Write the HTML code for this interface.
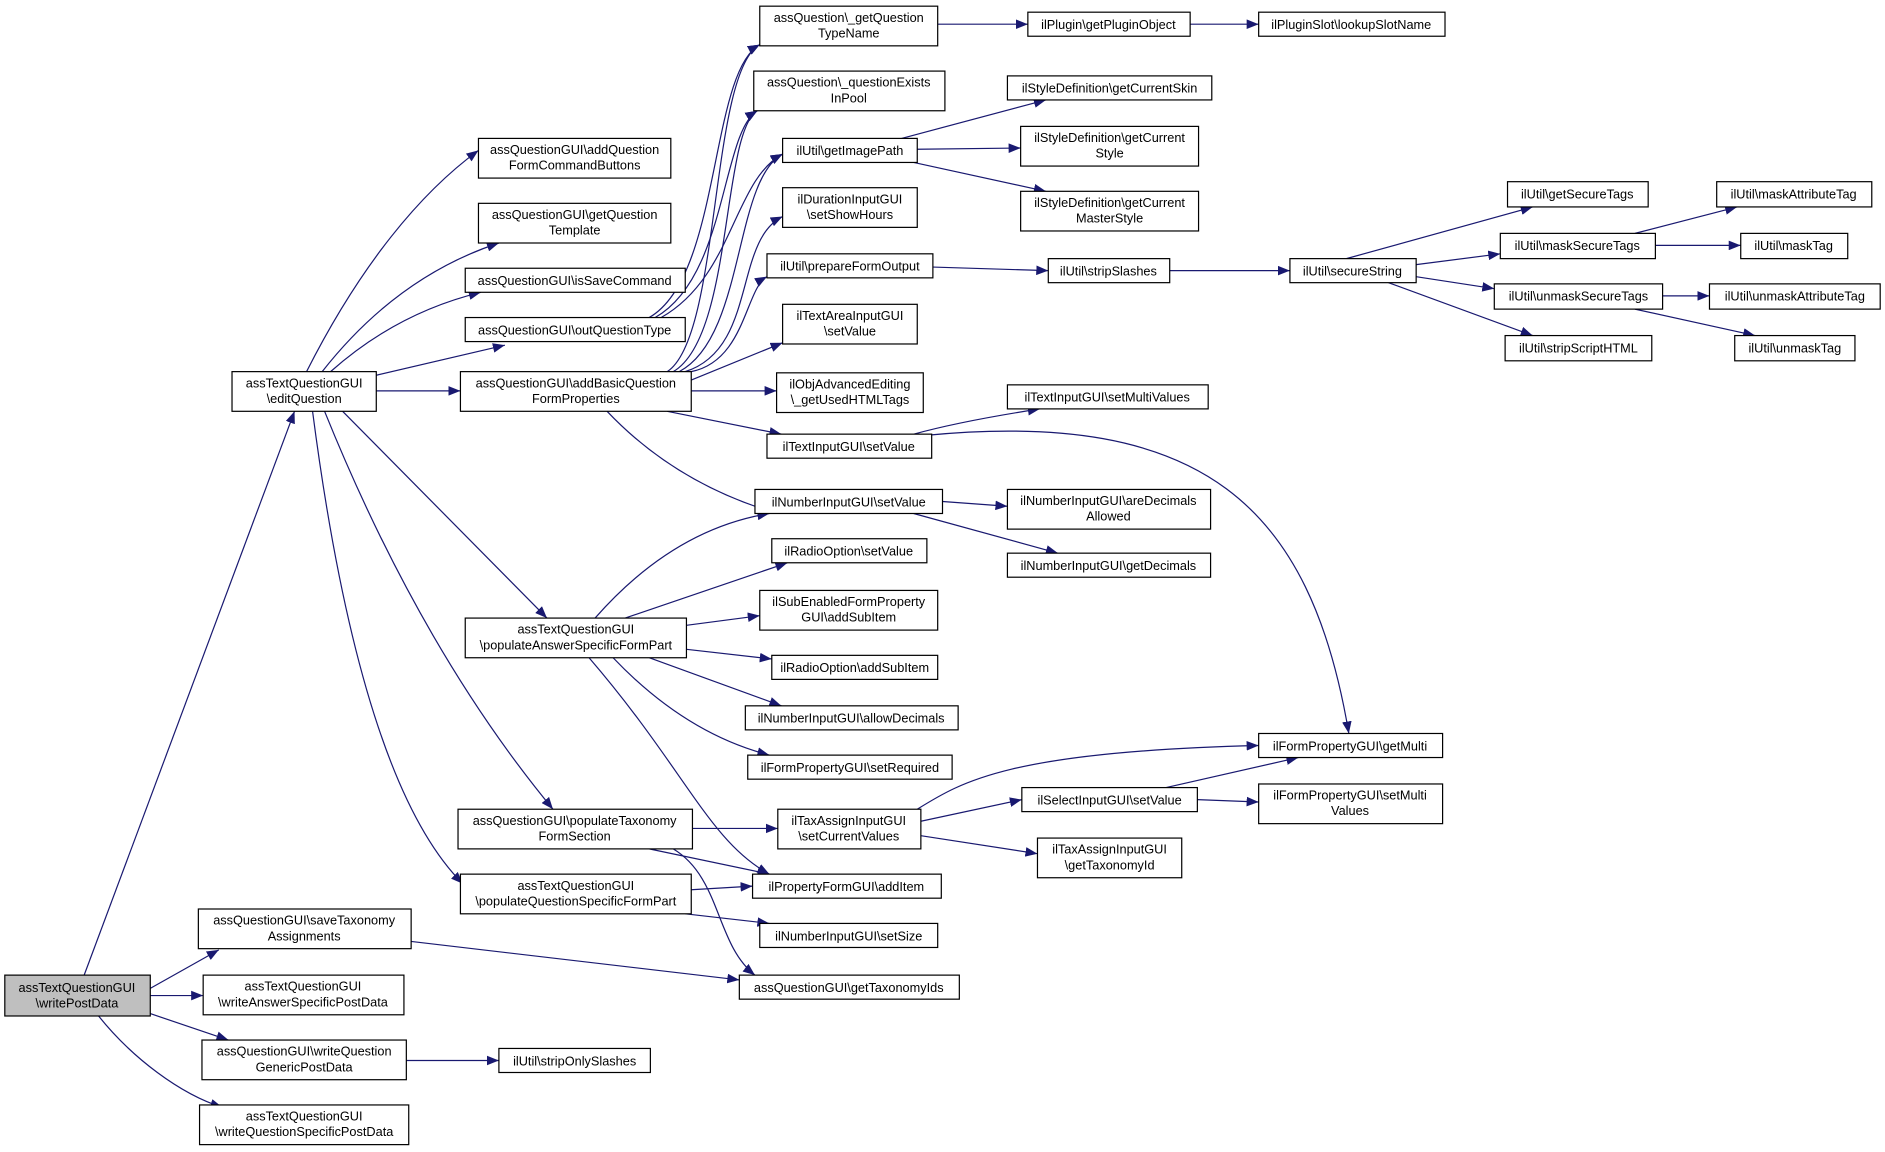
<!DOCTYPE html>
<html><head><meta charset="utf-8"><style>html,body{margin:0;padding:0;background:#fff}svg{display:block}</style></head>
<body>
<svg width="1885" height="1152" viewBox="0 0 1568 958" xmlns="http://www.w3.org/2000/svg" font-family="Liberation Sans, Arial, sans-serif" font-size="10.6">
<defs><marker id="a" markerUnits="userSpaceOnUse" markerWidth="11" markerHeight="8" refX="10" refY="4" orient="auto"><path d="M0,0L10,4L0,8z" fill="#191970"/></marker></defs>
<g fill="none" stroke="#191970" stroke-width="1" marker-end="url(#a)">
<path d="M70,811L245,342"/>
<path d="M125,822L182,790"/>
<path d="M125,828L169,828"/>
<path d="M125,843L190,865"/>
<path d="M82,845C110,880 150,910 185,921"/>
<path d="M255,309C300,220 350,160 398,125"/>
<path d="M268,309Q330,230 415,202"/>
<path d="M275,309Q330,260 400,243"/>
<path d="M313,312L420,287"/>
<path d="M313,325L383,325"/>
<path d="M285,342L455,514"/>
<path d="M270,342Q350,540 460,673"/>
<path d="M260,342Q300,650 385,735"/>
<path d="M555,309C600,280 590,60 632,37"/>
<path d="M560,309C610,280 600,110 630,92"/>
<path d="M565,309C620,280 610,150 651,128"/>
<path d="M570,309C630,290 610,200 651,180"/>
<path d="M575,309C620,300 620,240 638,230"/>
<path d="M575,316L651,285"/>
<path d="M575,325L646,325"/>
<path d="M555,342L650,361"/>
<path d="M505,342Q560,400 640,425"/>
<path d="M540,264C600,230 590,60 632,37"/>
<path d="M545,264C605,230 600,110 630,92"/>
<path d="M550,264C610,230 610,150 651,128"/>
<path d="M495,514Q560,440 640,427"/>
<path d="M520,514L655,468"/>
<path d="M571,520L632,512"/>
<path d="M571,540L642,548"/>
<path d="M540,547L650,587"/>
<path d="M510,547Q570,610 640,628"/>
<path d="M490,547C570,640 590,700 640,727"/>
<path d="M576,689L647,689"/>
<path d="M540,706L640,727"/>
<path d="M560,706C600,730 595,785 628,811"/>
<path d="M575,740L626,737"/>
<path d="M570,760L640,768"/>
<path d="M342,783L615,815"/>
<path d="M338,882L415,882"/>
<path d="M780,20L855,20"/>
<path d="M990,20L1047,20"/>
<path d="M750,115L870,83"/>
<path d="M763,124L849,123"/>
<path d="M760,135L870,159"/>
<path d="M776,222L872,225"/>
<path d="M973,225L1073,225"/>
<path d="M1120,215L1275,172"/>
<path d="M1178,220L1248,211"/>
<path d="M1178,230L1243,240"/>
<path d="M1155,235L1275,279"/>
<path d="M1360,194L1445,172"/>
<path d="M1377,204L1448,204"/>
<path d="M1383,246L1422,246"/>
<path d="M1360,257L1460,279"/>
<path d="M760,361Q800,350 865,340"/>
<path d="M770,362C1000,340 1090,420 1122,610"/>
<path d="M784,417L838,421"/>
<path d="M760,427L880,460"/>
<path d="M763,673C800,650 840,625 1047,620"/>
<path d="M766,683L850,665"/>
<path d="M766,695L863,710"/>
<path d="M970,655L1080,630"/>
<path d="M996,665L1047,667"/>
</g>
<g stroke="#000" stroke-width="1" fill="#fff">
<rect x="4" y="811" width="121" height="34" fill="#bfbfbf"/>
<rect x="193" y="309" width="120" height="33"/>
<rect x="398" y="115" width="160" height="33"/>
<rect x="398" y="169" width="160" height="33"/>
<rect x="387" y="223" width="183" height="20"/>
<rect x="387" y="264" width="183" height="20"/>
<rect x="383" y="309" width="192" height="33"/>
<rect x="387" y="514" width="184" height="33"/>
<rect x="381" y="673" width="195" height="33"/>
<rect x="383" y="727" width="192" height="33"/>
<rect x="165" y="756" width="177" height="33"/>
<rect x="169" y="811" width="167" height="33"/>
<rect x="168" y="865" width="170" height="33"/>
<rect x="166" y="919" width="174" height="33"/>
<rect x="632" y="5" width="148" height="33"/>
<rect x="627" y="59" width="159" height="33"/>
<rect x="651" y="115" width="112" height="20"/>
<rect x="651" y="156" width="112" height="33"/>
<rect x="638" y="211" width="138" height="20"/>
<rect x="651" y="253" width="112" height="33"/>
<rect x="646" y="310" width="122" height="33"/>
<rect x="638" y="361" width="137" height="20"/>
<rect x="628" y="407" width="156" height="20"/>
<rect x="642" y="448" width="129" height="20"/>
<rect x="632" y="491" width="148" height="33"/>
<rect x="642" y="545" width="138" height="20"/>
<rect x="620" y="587" width="177" height="20"/>
<rect x="622" y="628" width="170" height="20"/>
<rect x="647" y="673" width="119" height="33"/>
<rect x="626" y="727" width="157" height="20"/>
<rect x="632" y="768" width="148" height="20"/>
<rect x="615" y="811" width="183" height="20"/>
<rect x="415" y="872" width="126" height="20"/>
<rect x="855" y="10" width="135" height="20"/>
<rect x="838" y="63" width="170" height="20"/>
<rect x="849" y="105" width="148" height="33"/>
<rect x="849" y="159" width="148" height="33"/>
<rect x="872" y="215" width="101" height="20"/>
<rect x="838" y="320" width="167" height="20"/>
<rect x="838" y="407" width="169" height="33"/>
<rect x="838" y="460" width="169" height="20"/>
<rect x="850" y="655" width="146" height="20"/>
<rect x="863" y="697" width="120" height="33"/>
<rect x="1047" y="10" width="155" height="20"/>
<rect x="1073" y="215" width="105" height="20"/>
<rect x="1047" y="610" width="153" height="20"/>
<rect x="1047" y="652" width="153" height="33"/>
<rect x="1254" y="151" width="117" height="21"/>
<rect x="1248" y="194" width="129" height="21"/>
<rect x="1243" y="236" width="140" height="21"/>
<rect x="1252" y="279" width="122" height="21"/>
<rect x="1428" y="151" width="129" height="21"/>
<rect x="1448" y="194" width="89" height="21"/>
<rect x="1422" y="236" width="142" height="21"/>
<rect x="1443" y="279" width="100" height="21"/>
</g>
<g fill="#000" text-anchor="middle">
<text x="64" y="825">assTextQuestionGUI</text><text x="64" y="838">\writePostData</text>
<text x="253" y="322">assTextQuestionGUI</text><text x="253" y="335">\editQuestion</text>
<text x="478" y="128">assQuestionGUI\addQuestion</text><text x="478" y="141">FormCommandButtons</text>
<text x="478" y="182">assQuestionGUI\getQuestion</text><text x="478" y="195">Template</text>
<text x="478" y="237">assQuestionGUI\isSaveCommand</text>
<text x="478" y="278">assQuestionGUI\outQuestionType</text>
<text x="479" y="322">assQuestionGUI\addBasicQuestion</text><text x="479" y="335">FormProperties</text>
<text x="446" y="527" text-anchor="start" x-="">​</text>
<text x="479" y="527">assTextQuestionGUI</text><text x="479" y="540">\populateAnswerSpecificFormPart</text>
<text x="478" y="686">assQuestionGUI\populateTaxonomy</text><text x="478" y="699">FormSection</text>
<text x="479" y="740">assTextQuestionGUI</text><text x="479" y="753">\populateQuestionSpecificFormPart</text>
<text x="253" y="769">assQuestionGUI\saveTaxonomy</text><text x="253" y="782">Assignments</text>
<text x="252" y="824">assTextQuestionGUI</text><text x="252" y="837">\writeAnswerSpecificPostData</text>
<text x="253" y="878">assQuestionGUI\writeQuestion</text><text x="253" y="891">GenericPostData</text>
<text x="253" y="932">assTextQuestionGUI</text><text x="253" y="945">\writeQuestionSpecificPostData</text>
<text x="706" y="18">assQuestion\_getQuestion</text><text x="706" y="31">TypeName</text>
<text x="706" y="72">assQuestion\_questionExists</text><text x="706" y="85">InPool</text>
<text x="707" y="129">ilUtil\getImagePath</text>
<text x="707" y="169">ilDurationInputGUI</text><text x="707" y="182">\setShowHours</text>
<text x="707" y="225">ilUtil\prepareFormOutput</text>
<text x="707" y="266">ilTextAreaInputGUI</text><text x="707" y="279">\setValue</text>
<text x="707" y="323">ilObjAdvancedEditing</text><text x="707" y="336">\_getUsedHTMLTags</text>
<text x="706" y="375">ilTextInputGUI\setValue</text>
<text x="706" y="421">ilNumberInputGUI\setValue</text>
<text x="706" y="462">ilRadioOption\setValue</text>
<text x="706" y="504">ilSubEnabledFormProperty</text><text x="706" y="517">GUI\addSubItem</text>
<text x="711" y="559">ilRadioOption\addSubItem</text>
<text x="708" y="601">ilNumberInputGUI\allowDecimals</text>
<text x="707" y="642">ilFormPropertyGUI\setRequired</text>
<text x="706" y="686">ilTaxAssignInputGUI</text><text x="706" y="699">\setCurrentValues</text>
<text x="704" y="741">ilPropertyFormGUI\addItem</text>
<text x="706" y="782">ilNumberInputGUI\setSize</text>
<text x="706" y="825">assQuestionGUI\getTaxonomyIds</text>
<text x="478" y="886">ilUtil\stripOnlySlashes</text>
<text x="922" y="24">ilPlugin\getPluginObject</text>
<text x="923" y="77">ilStyleDefinition\getCurrentSkin</text>
<text x="923" y="118">ilStyleDefinition\getCurrent</text><text x="923" y="131">Style</text>
<text x="923" y="172">ilStyleDefinition\getCurrent</text><text x="923" y="185">MasterStyle</text>
<text x="922" y="229">ilUtil\stripSlashes</text>
<text x="921" y="334">ilTextInputGUI\setMultiValues</text>
<text x="922" y="420">ilNumberInputGUI\areDecimals</text><text x="922" y="433">Allowed</text>
<text x="922" y="474">ilNumberInputGUI\getDecimals</text>
<text x="923" y="669">ilSelectInputGUI\setValue</text>
<text x="923" y="710">ilTaxAssignInputGUI</text><text x="923" y="723">\getTaxonomyId</text>
<text x="1124" y="24">ilPluginSlot\lookupSlotName</text>
<text x="1125" y="229">ilUtil\secureString</text>
<text x="1123" y="624">ilFormPropertyGUI\getMulti</text>
<text x="1123" y="665">ilFormPropertyGUI\setMulti</text><text x="1123" y="678">Values</text>
<text x="1312" y="165">ilUtil\getSecureTags</text>
<text x="1312" y="208">ilUtil\maskSecureTags</text>
<text x="1313" y="250">ilUtil\unmaskSecureTags</text>
<text x="1313" y="293">ilUtil\stripScriptHTML</text>
<text x="1492" y="165">ilUtil\maskAttributeTag</text>
<text x="1492" y="208">ilUtil\maskTag</text>
<text x="1493" y="250">ilUtil\unmaskAttributeTag</text>
<text x="1493" y="293">ilUtil\unmaskTag</text>
</g>
</svg>
</body></html>
